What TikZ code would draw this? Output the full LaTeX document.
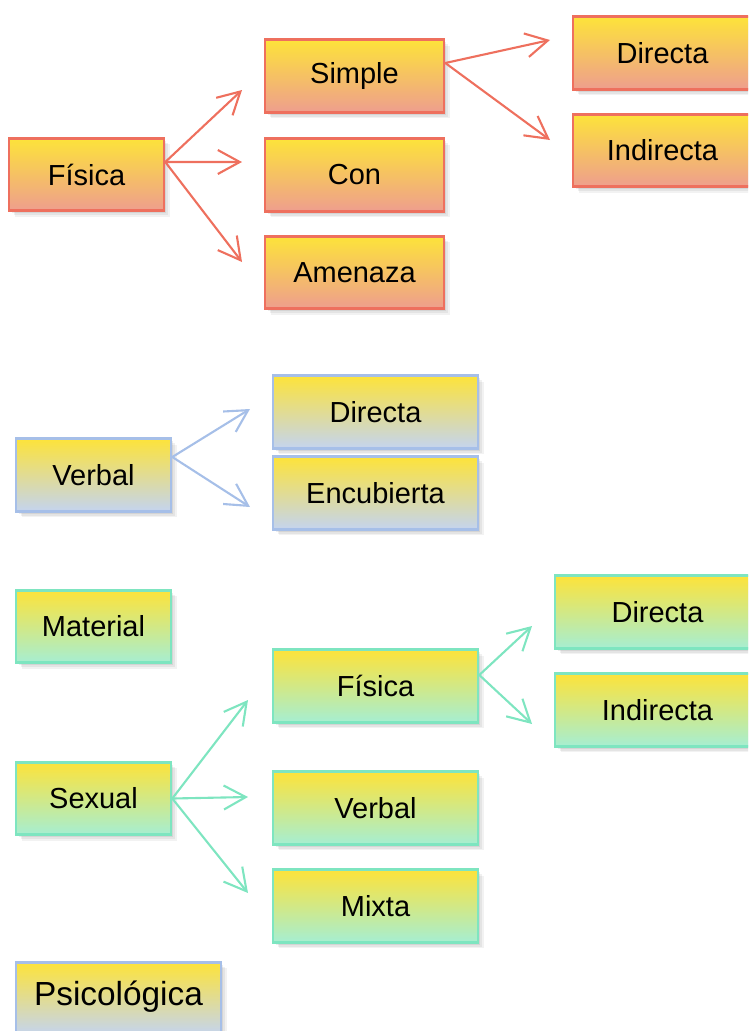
\documentclass[tikz,border=0pt]{standalone}
\usepackage{fontspec}
\setmainfont{Liberation Sans}
\usetikzlibrary{arrows.meta,shadows}
\definecolor{amar}{HTML}{FDE33A}
\definecolor{rojof}{HTML}{EE9E8E}
\definecolor{rojol}{HTML}{EE705E}
\definecolor{azulf}{HTML}{C4D4EF}
\definecolor{azull}{HTML}{A6BFE8}
\definecolor{verdef}{HTML}{A6EED2}
\definecolor{verdel}{HTML}{7EE5C0}

\begin{document}
\begin{tikzpicture}[x=0.02cm, y=-0.02cm, font=\fontsize{16.5}{18}\selectfont,
  main/.style={draw, line width=1.5pt, minimum height=1.45cm, inner sep=0pt,
    general shadow={shadow xshift=0.12cm, shadow yshift=-0.12cm, opacity=0.05, fill=black},
    general shadow={shadow xshift=0.09cm, shadow yshift=-0.09cm, opacity=0.06, fill=black},
    general shadow={shadow xshift=0.05cm, shadow yshift=-0.05cm, opacity=0.07, fill=black}},
  rbox/.style={main, draw=rojol, top color=amar, bottom color=rojof},
  bbox/.style={main, draw=azull, top color=amar, bottom color=azulf},
  gbox/.style={main, draw=verdel, top color=amar, bottom color=verdef},
  ar/.style={line width=1.2pt, -{Straight Barb[length=4.4mm, width=4.8mm]}},
  rar/.style={ar, draw=rojol}, bar/.style={ar, draw=azull}, gar/.style={ar, draw=verdel}]
  \clip (0,0) rectangle (748,1031);

  % fisica
  \node[rbox, minimum width=3.1cm] (fis) at (86.5,174.5) {Física};
  \node[rbox, minimum width=3.58cm] (simple) at (354.5,76) {Simple};
  \node[rbox, minimum width=3.58cm] (con) at (354.5,175) {Con};
  \node[rbox, minimum width=3.58cm] (amenaza) at (354.5,272.5) {Amenaza};
  \node[rbox, minimum width=3.58cm] (dir1) at (662.5,53) {Directa};
  \node[rbox, minimum width=3.58cm] (ind1) at (662.5,150.5) {Indirecta};

  % verbal
  \node[bbox, minimum width=3.1cm] (verbal) at (93.5,475) {Verbal};
  \node[bbox, minimum width=4.1cm] (dir2) at (375.5,412) {Directa};
  \node[bbox, minimum width=4.1cm] (encub) at (375.5,493) {Encubierta};

  % material y sexual
  \node[gbox, minimum width=3.1cm] (material) at (93.5,626.5) {Material};
  \node[gbox, minimum width=3.1cm] (sexual) at (93.5,798.5) {Sexual};
  \node[gbox, minimum width=4.1cm] (fis2) at (375.5,686) {Física};
  \node[gbox, minimum width=4.1cm] (verbal2) at (375.5,808) {Verbal};
  \node[gbox, minimum width=4.1cm] (mixta) at (375.5,906) {Mixta};
  \node[gbox, minimum width=4.1cm] (dir3) at (657.5,612) {Directa};
  \node[gbox, minimum width=4.1cm] (ind3) at (657.5,710) {Indirecta};

  % psicologica
  \node[bbox, minimum width=4.1cm, font=\fontsize{19}{21}\selectfont] (psico) at (118.5,998.5) {\raisebox{0.2cm}{Psicológica}};

  % puntas libres
  \coordinate (f1) at (242,90);
  \coordinate (f2) at (242,162);
  \coordinate (f3) at (242,262);
  \coordinate (s1) at (550,40);
  \coordinate (s2) at (550,140);
  \coordinate (v1) at (250,409);
  \coordinate (v2) at (250,507);
  \coordinate (g1) at (532,626);
  \coordinate (g2) at (532,724);
  \coordinate (x1) at (248,700);
  \coordinate (x2) at (248,797);
  \coordinate (x3) at (248,893);

  \draw[rar] ([yshift=0.25cm]fis.east) -- (f1);
  \draw[rar] ([yshift=0.25cm]fis.east) -- (f2);
  \draw[rar] ([yshift=0.25cm]fis.east) -- (f3);
  \draw[rar] ([yshift=0.26cm]simple.east) -- (s1);
  \draw[rar] ([yshift=0.26cm]simple.east) -- (s2);
  \draw[bar] ([yshift=0.36cm]verbal.east) -- (v1);
  \draw[bar] ([yshift=0.36cm]verbal.east) -- (v2);
  \draw[gar] ([yshift=0.22cm]fis2.east) -- (g1);
  \draw[gar] ([yshift=0.22cm]fis2.east) -- (g2);
  \draw[gar] (sexual.east) -- (x1);
  \draw[gar] (sexual.east) -- (x2);
  \draw[gar] (sexual.east) -- (x3);
\end{tikzpicture}
\end{document}
